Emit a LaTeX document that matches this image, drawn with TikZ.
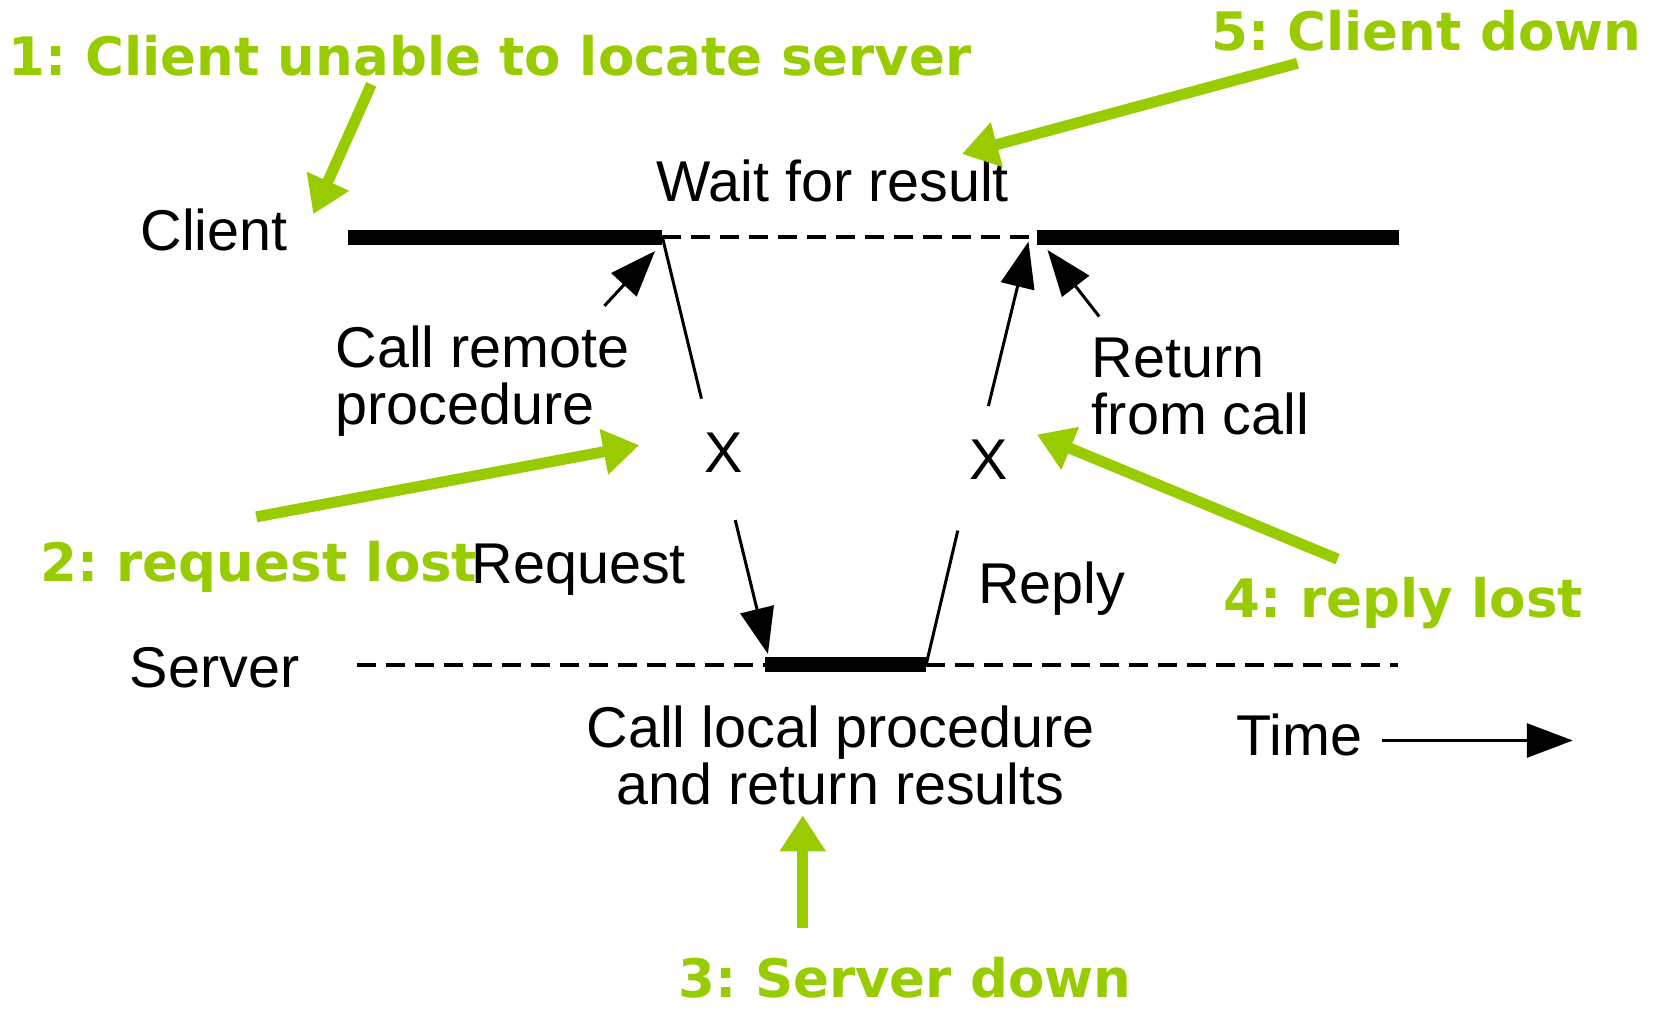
\documentclass[tikz,border=0pt]{standalone}
\usepackage{fontspec}
\setmainfont{Liberation Sans}
\newfontfamily\greenfont{DejaVu Sans}
\usetikzlibrary{arrows.meta}
\definecolor{lime}{HTML}{99CC00}
\frenchspacing
\tikzset{
  blk/.style={font=\fontsize{57.5}{57}\selectfont, inner sep=0pt, text=black},
  grn/.style={font=\greenfont\bfseries\fontsize{53}{56}\selectfont, inner sep=0pt, text=lime, text depth=0pt},
  thickbar/.style={line width=15pt, line cap=butt},
  dashline/.style={line width=4pt, dash pattern=on 19pt off 10pt},
  thinline/.style={line width=3pt},
  blkarrow/.style={line width=3pt, -{Triangle[length=46pt,width=34pt]}},
  grnarrow/.style={line width=11pt, draw=lime, -{Triangle[length=36pt,width=44pt]}},
}
\begin{document}
\begin{tikzpicture}[x=1.0548pt, y=-1.0548pt]
\useasboundingbox (0,0) rectangle (1568,959);
% timeline coordinates
\coordinate (c0) at (330,225);
\coordinate (c1) at (628,225);
\coordinate (c2) at (980,225);
\coordinate (c3) at (983,225);
\coordinate (c4) at (1326,225);
\coordinate (s0) at (338,630);
\coordinate (s1) at (725,630);
\coordinate (s2) at (878,630);
\coordinate (s3) at (1325,630);
% lines
\draw[thickbar] (c0) -- (c1);
\draw[thickbar] (c3) -- (c4);
\draw[dashline] (c1) -- (c2);
\draw[dashline] (s0) -- (s1);
\draw[dashline] (s2) -- (s3);
\draw[thickbar] (s1) -- (s2);
% black texts
\node[blk, anchor=base west] (client) at (133,237) {Client};
\node[blk, anchor=base west] (server) at (123,652) {Server};
\node[blk, anchor=base west] (wait) at (622,191) {Wait for result};
\node[blk, anchor=base west, align=left] (callremote) at (318,402) {Call remote\\procedure};
\node[blk, anchor=base west, align=left] (retcall) at (1035,412) {Return\\from call};
\node[blk, anchor=base] (xl) at (686,448) {X};
\node[blk, anchor=base] (xr) at (937,455) {X};
\node[blk, anchor=base west] (request) at (447,553) {Request};
\node[blk, anchor=base west] (reply) at (927,572) {Reply};
\node[blk, anchor=base, align=center] (calllocal) at (797,763) {Call local procedure\\and return results};
\node[blk, anchor=base west] (time) at (1172,716) {Time};
% message lines
\coordinate (rq1) at (665,378);
\coordinate (rq2) at (697,493);
\coordinate (rq3) at (728,620);
\coordinate (rp1) at (908,503);
\coordinate (rp2) at (937,385);
\coordinate (rp3) at (975,229);
\draw[thinline] (c1) -- (rq1);
\draw[blkarrow] (rq2) -- (rq3);
\draw[thinline] (s2) -- (rp1);
\draw[blkarrow] (rp2) -- (rp3);
\coordinate (cr0) at (573,290);
\coordinate (cr1) at (621,238);
\draw[blkarrow] (cr0) -- (cr1);
\coordinate (rt0) at (1042,300);
\coordinate (rt1) at (993,237);
\draw[blkarrow] (rt0) -- (rt1);
\coordinate (t0) at (1310,702);
\coordinate (t1) at (1491,702);
\draw[blkarrow] (t0) -- (t1);
% green labels
\node[grn, anchor=base west] (g1) at (8,72) {1: Client unable to locate server};
\node[grn, anchor=base west] (g5) at (1148,48) {5: Client down};
\node[grn, anchor=base west] (g2) at (38,551) {2: request lost};
\node[grn, anchor=base west] (g4) at (1160,585) {4: reply lost};
\node[grn, anchor=base west] (g3) at (643,946) {3: Server down};
% green arrows
\coordinate (a1s) at (352,80);
\coordinate (a1e) at (297,203);
\coordinate (a5s) at (1230,60);
\coordinate (a5e) at (912,146);
\coordinate (a2s) at (243,490);
\coordinate (a2e) at (606,422);
\coordinate (a4s) at (1268,530);
\coordinate (a4e) at (983,412);
\coordinate (a3s) at (761,880);
\coordinate (a3e) at (761,773);
\draw[grnarrow] (a1s) -- (a1e);
\draw[grnarrow] (a5s) -- (a5e);
\draw[grnarrow] (a2s) -- (a2e);
\draw[grnarrow] (a4s) -- (a4e);
\draw[grnarrow] (a3s) -- (a3e);
\end{tikzpicture}
\end{document}
